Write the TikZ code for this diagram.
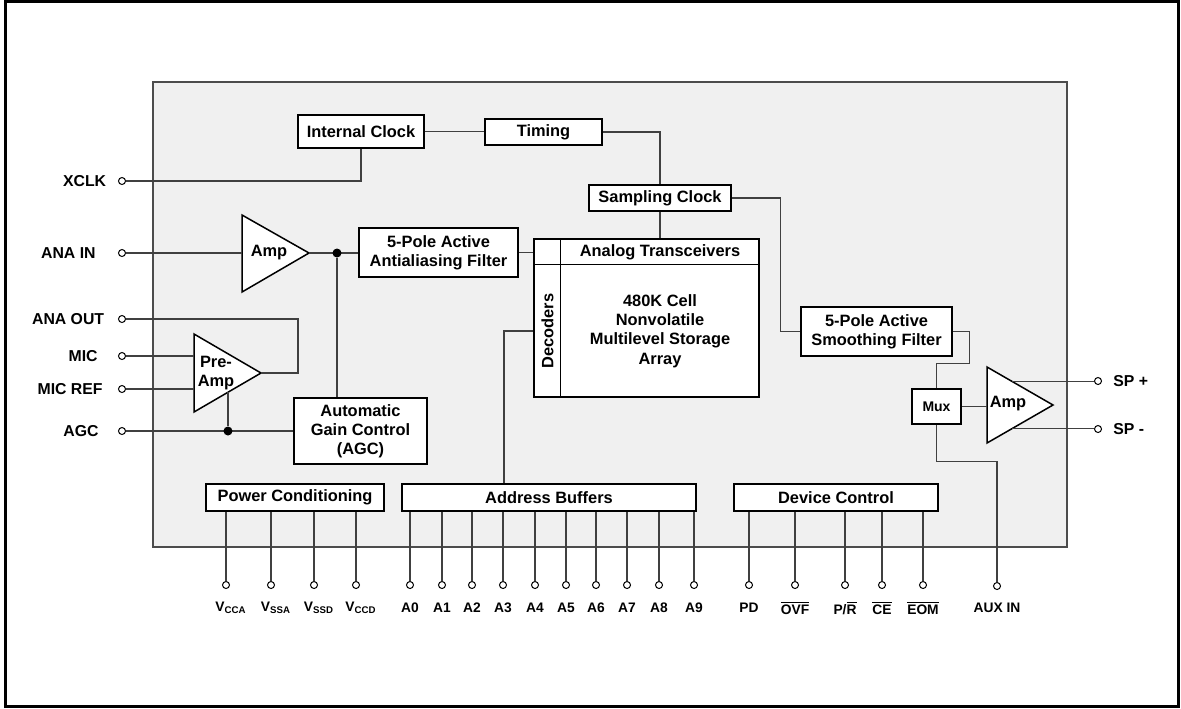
\documentclass[tikz,border=0pt]{standalone}
\usepackage{fontspec}
\setmainfont{Liberation Sans}
\usetikzlibrary{calc}
\usetikzlibrary{positioning}

\newcommand{\negsig}[1]{$\overline{\mbox{#1}}$}

\tikzset{
    box/.style={draw, fill=white, line width=0.75pt, align=center, inner sep=0pt},
    wire/.style={black!75, line width=0.6pt},
    tri/.style={draw, fill=white, line width=0.75pt},
    pin/.style={circle, draw, fill=white, line width=0.5pt, inner sep=0pt, minimum size=3.5pt},
    dot/.style={circle, fill=black, inner sep=0pt, minimum size=4.5pt},
    lbl/.style={font=\fontsize{7.9}{9}\selectfont\bfseries, inner sep=0pt},
    pinlbl/.style={font=\fontsize{6.9}{8}\selectfont\bfseries, inner sep=0pt},
}

\begin{document}
\begin{tikzpicture}[x=0.5pt, y=-0.5pt, font=\fontsize{8.2}{9.6}\selectfont\bfseries]
    \useasboundingbox (0,0) rectangle (1181,708);
    \draw[line width=1.5pt] (5,1) rectangle (1178,706);
    % chip area
    \draw[fill=black!6, draw=black!70, line width=0.75pt] (153,82) rectangle (1067,547);

    % blocks
    \node[box, minimum width=63pt, minimum height=16.5pt] (ic) at (361,131.5) {Internal Clock};
    \node[box, minimum width=58.5pt, minimum height=13pt] (tim) at (543.5,132) {Timing};
    \node[box, minimum width=71pt, minimum height=13pt] (sc) at (660,198) {Sampling Clock};
    \node[box, minimum width=79.5pt, minimum height=24.5pt] (af) at (438.5,252.5) {5-Pole Active\\Antialiasing Filter};
    \node[box, minimum width=66.5pt, minimum height=33pt] (agc) at (360.5,431) {Automatic\\Gain Control\\(AGC)};
    \node[box, minimum width=75.5pt, minimum height=24.5pt] (sf) at (876.5,331.5) {5-Pole Active\\Smoothing Filter};
    \node[box, minimum width=24.5pt, minimum height=17.5pt, font=\fontsize{7}{8}\selectfont\bfseries] (mx) at (936.5,406.5) {Mux};
    \node[box, minimum width=89pt, minimum height=13.5pt] (pc) at (295,497.5) {Power Conditioning};
    \node[box, minimum width=147pt, minimum height=13.5pt] (ab) at (549,497.5) {Address Buffers};
    \node[box, minimum width=102pt, minimum height=13.5pt] (dc) at (836,497.5) {Device Control};

    % storage array
    \node[box, minimum width=112.5pt, minimum height=79pt] (mem) at (646.5,318) {};
    \draw[line width=0.75pt] (mem.north west) ++(0,26) -- ++(225,0);
    \draw[line width=0.75pt] (mem.north west) ++(27,0) -- ++(0,158);
    \node (atx) at (660,252) {Analog Transceivers};
    \node[rotate=90] (dec) at (547.5,331) {Decoders};
    \node[align=center] (arr) at (660,331) {480K Cell\\Nonvolatile\\Multilevel Storage\\Array};
    \coordinate (decin) at (mem.west |- dec);

    % amplifiers
    \draw[tri] (242,215) coordinate (a1t) -- (309,253) coordinate (a1o) -- (242,292) coordinate (a1b) -- cycle;
    \node (a1l) at (269,253) {Amp};
    \draw[tri] (194,334) coordinate (pat) -- (261,373) coordinate (pao) -- (194,412) coordinate (pab0) -- cycle;
    \node[align=center] (pal) at (216,373) {Pre-\\Amp};
    \coordinate (pab) at ($(pab0)!0.507!(pao)$);
    \draw[tri] (987,367) coordinate (a2t) -- (1053,405) coordinate (a2o) -- (987,443) coordinate (a2b) -- cycle;
    \node (a2l) at (1008,404) {Amp};
    \coordinate (a2u) at ($(a2t)!0.38!(a2o)$);
    \coordinate (a2d) at ($(a2b)!0.38!(a2o)$);

    % side pins
    \foreach \nm/\y/\t/\d in {xclk/181/XCLK/5.75pt, anain/253/ANA IN/11pt, anaout/319/ANA OUT/6.75pt,
                               mic/356/MIC/10pt, micref/389/MIC REF/7.5pt, agcp/431/AGC/9.5pt} {
        \node[pin] (\nm) at (122,\y) {};
        \node[lbl, left=\d of \nm] (\nm-l) {\t};
    }
    \node[pin] (spp) at (1098,381) {};
    \node[lbl, right=5.5pt of spp] (spp-l) {SP +};
    \node[pin] (spm) at (1098,429) {};
    \node[lbl, right=5.5pt of spm] (spm-l) {SP -};

    % bottom pins
    \foreach \x/\t in {226/{V\textsubscript{CCA}}, 271/{V\textsubscript{SSA}}, 314/{V\textsubscript{SSD}}, 356/{V\textsubscript{CCD}}} {
        \node[pin] (p\x) at (\x,585) {};
        \node[pinlbl] (l\x) at (\x+5,608) {\t};
        \draw[wire] (p\x.north) -- (p\x.north |- pc.south);
    }
    \foreach \x/\t in {410/A0, 442/A1, 472/A2, 503/A3, 535/A4, 566/A5, 596/A6, 627/A7, 659/A8, 694/A9} {
        \node[pin] (p\x) at (\x,585) {};
        \node[pinlbl] (l\x) at (\x,608) {\t};
        \draw[wire] (p\x.north) -- (p\x.north |- ab.south);
    }
    \foreach \x/\t in {749/PD, 795/{\negsig{OVF}}, 845/{P/\negsig{R}}, 882/{\negsig{CE}}, 923/{\negsig{EOM}}} {
        \node[pin] (p\x) at (\x,585) {};
        \node[pinlbl] (l\x) at (\x,608) {\t};
        \draw[wire] (p\x.north) -- (p\x.north |- dc.south);
    }
    \node[pin] (auxin) at (997,586) {};
    \node[pinlbl] (auxin-l) at (997,608) {AUX IN};

    % connections
    \draw[wire] (xclk.east) -| (ic.south);
    \draw[wire] (ic.east) -- (ic.east -| tim.west);
    \draw[wire] (tim.east) -| (sc.north);
    \draw[wire] (sc.south) -- (sc.south |- mem.north);
    \draw[wire] (sc.east) -- ++(49,0) |- (sf.west);
    \draw[wire] (anain.east) -- (anain.east -| a1t);
    \draw[wire] (a1o) -- (a1o -| af.west);
    \node[dot] (j1) at ($(a1o)+(28,0)$) {};
    \draw[wire] (j1) -- (j1 |- agc.north);
    \draw[wire] (af.east) -- (af.east -| mem.west);
    \draw[wire] (anaout.east) -| ($(pao)+(37,0)$) -- (pao);
    \draw[wire] (mic.east) -- (mic.east -| pat);
    \draw[wire] (micref.east) -- (micref.east -| pat);
    \draw[wire] (agcp.east) -- (agcp.east -| agc.west);
    \node[dot] (j2) at (pab |- agcp) {};
    \draw[wire] (j2) -- (pab);
    \draw[wire] (sf.east) -| ($(mx.north)+(33,-25)$) -| (mx.north);
    \draw[wire] (mx.east) -- (mx.east -| a2t);
    \draw[wire] (a2u) -- (a2u -| spp.west);
    \draw[wire] (a2d) -- (a2d -| spm.west);
    \draw[wire] (mx.south) -- ++(0,37) -| (auxin.north);
    \draw[wire] ($(ab.north)+(-45,0)$) |- (decin);
\end{tikzpicture}
\end{document}
